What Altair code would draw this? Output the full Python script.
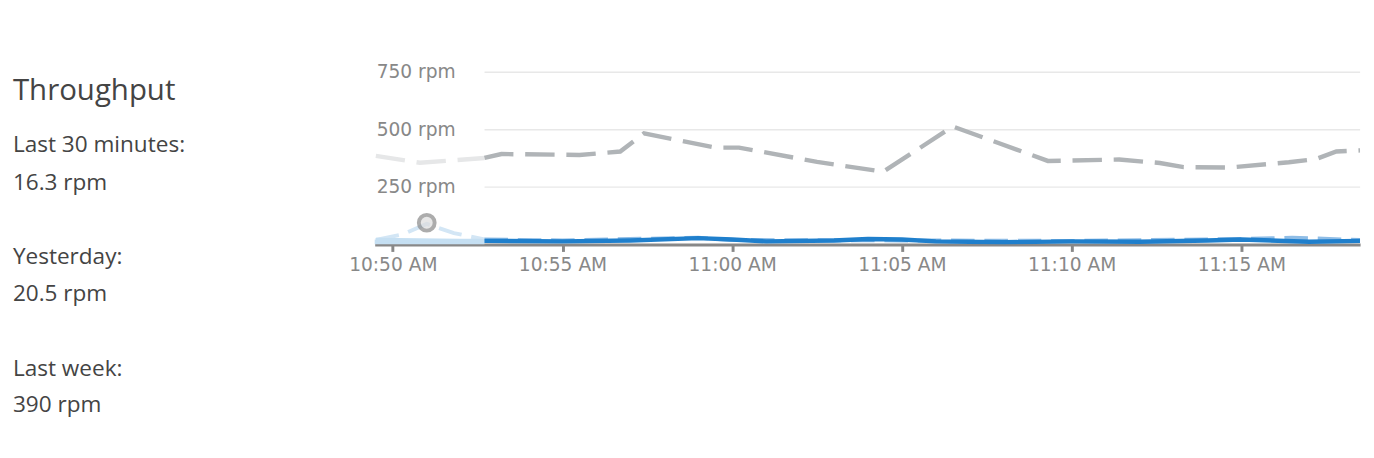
import pandas as pd
import altair as alt

# minutes after 10:00
week_t = [49.5, 50.8, 52.7, 53.2, 55.5, 56.7, 57.4, 59.5, 60.2, 62.5, 64.45, 66.5,
          69.3, 71.4, 72.6, 73.3, 74.6, 76.4, 77.2, 77.8, 78.5]
week_v = [386, 356, 377, 394, 390, 405, 484, 422, 422, 360, 317, 514,
          364, 370, 355, 337, 335, 358, 372, 405, 410]
yest_t = [49.5, 50.3, 51.0, 51.8, 52.7, 55, 59, 60, 65, 70, 75, 76.5, 78.5]
yest_v = [20, 45, 90, 50, 22, 18, 30, 20, 18, 16, 24, 30, 20]
now_t = [49.5, 52, 52.7, 55, 57, 59, 60, 61, 63, 64, 65, 66, 68, 70, 72, 74, 75, 77, 78.5]
now_v = [20, 16, 16, 14, 18, 28, 22, 14, 18, 24, 22, 14, 10, 14, 12, 18, 22, 12, 16]
y_ticks = [250, 500, 750]
y_tick_labels = ["250 rpm", "500 rpm", "750 rpm"]
x_ticks = [50, 55, 60, 65, 70, 75]
marker_t, marker_v = 51.0, 95
fade_end = 52.7


def ts(m):
    return (pd.Timestamp("2020-01-01 10:00") + pd.Timedelta(minutes=m)).strftime("%Y-%m-%dT%H:%M:%S")


def frame(t, v):
    return pd.DataFrame({"time": [ts(m) for m in t], "value": v,
                         "faded": [m <= fade_end for m in t]})


def dt(m):
    return alt.DateTime(year=2020, month=1, date=1, hours=10 + int(m) // 60,
                        minutes=int(m) % 60, seconds=int(round((m % 1) * 60)))


W, H = 1005, 232
xs = alt.Scale(domain=[dt(49.47), dt(78.5)])
ys = alt.Scale(domain=[0, 990], nice=False)
x_enc = alt.X("time:T", scale=xs, title=None,
              axis=alt.Axis(format="%-I:%M %p", values=[dt(m) for m in x_ticks],
                            grid=False, domainColor="#888", domainWidth=3, tickColor="#888",
                            tickWidth=3, tickSize=7, labelColor="#888", labelFontSize=19,
                            labelFont="DejaVu Sans", labelPadding=4))
y_enc = alt.Y("value:Q", scale=ys, axis=None)

grid = alt.Chart(pd.DataFrame({"value": y_ticks})).mark_rule(color="#e8e8e8", strokeWidth=1.5).encode(
    y=y_enc, x=alt.value(112), x2=alt.value(W))
ylab = alt.Chart(pd.DataFrame({"value": y_ticks, "label": y_tick_labels})).mark_text(
    align="left", baseline="middle", fontSize=19, color="#888", font="DejaVu Sans").encode(
    y=y_enc, x=alt.value(2), text="label:N")


def series(t, v, color, faded_color, width, dash=None):
    df = frame(t, v)
    kw = dict(strokeWidth=width, clip=True)
    if dash:
        kw["strokeDash"] = dash
    a = alt.Chart(df[df.faded]).mark_line(color=faded_color, **kw).encode(x=x_enc, y=y_enc)
    b = alt.Chart(df[df.time >= ts(fade_end)]).mark_line(color=color, **kw).encode(x=x_enc, y=y_enc)
    return [a, b]


band_df = pd.DataFrame({"time": [ts(49.0)], "time2": [ts(fade_end)], "value": [22], "value2": [0]})
band = alt.Chart(band_df).mark_rect(color="#c5dff2", clip=True).encode(
    x=x_enc, x2="time2:T", y=y_enc, y2="value2:Q")
marker = alt.Chart(frame([marker_t], [marker_v])).mark_point(
    shape="circle", size=260, filled=True, fill="#dddddd", stroke="#8a8a8a", strokeWidth=4).encode(
    x=x_enc, y=y_enc)

layers = [grid, ylab]
layers += series(week_t, week_v, "#b0b4b7", "#e6e7e8", 4.5, [30, 12])
layers += series(yest_t, yest_v, "#8fbde6", "#d3e6f5", 4, [24, 10])
layers += [band]
layers += series(now_t, now_v, "#1f7fcc", "#c5dff2", 4.5)
layers += [marker]
right = alt.layer(*layers).properties(width=W, height=H)

texts = [("Throughput", 76, 30), ("Last 30 minutes:", 131, 23), ("16.3 rpm", 169, 23),
         ("Yesterday:", 245, 23), ("20.5 rpm", 283, 23), ("Last week:", 359, 23), ("390 rpm", 396, 23)]
left_layers = []
for txt, yy, fs in texts:
    left_layers.append(alt.Chart(pd.DataFrame({"t": [txt]})).mark_text(
        align="left", baseline="middle", fontSize=fs, color="#444", font="Open Sans").encode(
        text="t:N", x=alt.value(0), y=alt.value(yy)))
left = alt.layer(*left_layers).properties(width=322, height=420)

chart = alt.hconcat(left, right, spacing=20).configure_view(stroke=None)
chart.save("out.html", embed_options={"renderer": "svg", "actions": False})
